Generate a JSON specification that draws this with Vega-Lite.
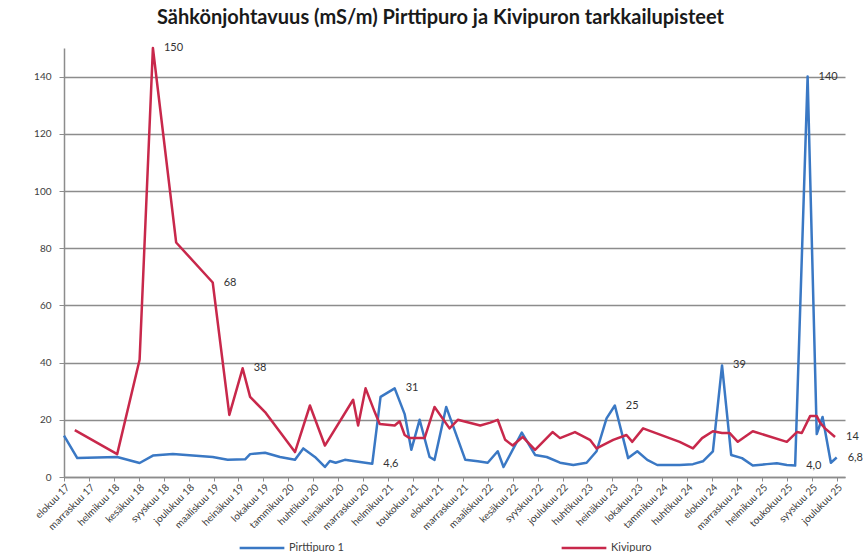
{
  "$schema": "https://vega.github.io/schema/vega-lite/v6.json",
  "autosize": {"type": "none"},
  "width": 781,
  "height": 429,
  "padding": {"left": 64, "top": 48, "right": 21, "bottom": 75},
  "background": "white",
  "title": {
    "text": "Sähkönjohtavuus (mS/m) Pirttipuro ja Kivipuron tarkkailupisteet",
    "font": "Lato",
    "fontSize": 20,
    "fontWeight": "bold",
    "color": "#1a1a1a",
    "anchor": "middle",
    "baseline": "bottom",
    "offset": 18,
    "dx": -14,
    "dy": 24
  },
  "data": {
    "values": [
      {"kerta": 0, "sarja": "Pirttipuro 1", "arvo": 14.5},
      {"kerta": 1.6, "sarja": "Pirttipuro 1", "arvo": 6.6},
      {"kerta": 6.4, "sarja": "Pirttipuro 1", "arvo": 7.0},
      {"kerta": 9.1, "sarja": "Pirttipuro 1", "arvo": 4.9},
      {"kerta": 10.7, "sarja": "Pirttipuro 1", "arvo": 7.5},
      {"kerta": 13.1, "sarja": "Pirttipuro 1", "arvo": 8.0},
      {"kerta": 17.9, "sarja": "Pirttipuro 1", "arvo": 7.0},
      {"kerta": 19.7, "sarja": "Pirttipuro 1", "arvo": 6.0},
      {"kerta": 21.8, "sarja": "Pirttipuro 1", "arvo": 6.2},
      {"kerta": 22.4, "sarja": "Pirttipuro 1", "arvo": 8.0},
      {"kerta": 24.2, "sarja": "Pirttipuro 1", "arvo": 8.5},
      {"kerta": 26.0, "sarja": "Pirttipuro 1", "arvo": 7.0},
      {"kerta": 27.8, "sarja": "Pirttipuro 1", "arvo": 6.0},
      {"kerta": 28.8, "sarja": "Pirttipuro 1", "arvo": 10.0},
      {"kerta": 30.2, "sarja": "Pirttipuro 1", "arvo": 7.0},
      {"kerta": 31.4, "sarja": "Pirttipuro 1", "arvo": 3.5},
      {"kerta": 32.0, "sarja": "Pirttipuro 1", "arvo": 5.6},
      {"kerta": 32.7, "sarja": "Pirttipuro 1", "arvo": 5.0},
      {"kerta": 33.8, "sarja": "Pirttipuro 1", "arvo": 6.0},
      {"kerta": 35.0, "sarja": "Pirttipuro 1", "arvo": 5.5},
      {"kerta": 37.1, "sarja": "Pirttipuro 1", "arvo": 4.6, "nimi": "4,6"},
      {"kerta": 38.1, "sarja": "Pirttipuro 1", "arvo": 28},
      {"kerta": 39.8, "sarja": "Pirttipuro 1", "arvo": 31, "nimi": "31"},
      {"kerta": 41.0, "sarja": "Pirttipuro 1", "arvo": 22},
      {"kerta": 41.8, "sarja": "Pirttipuro 1", "arvo": 9.5},
      {"kerta": 42.8, "sarja": "Pirttipuro 1", "arvo": 20},
      {"kerta": 44.0, "sarja": "Pirttipuro 1", "arvo": 7},
      {"kerta": 44.6, "sarja": "Pirttipuro 1", "arvo": 6},
      {"kerta": 46.0, "sarja": "Pirttipuro 1", "arvo": 24.5},
      {"kerta": 48.3, "sarja": "Pirttipuro 1", "arvo": 6},
      {"kerta": 49.8, "sarja": "Pirttipuro 1", "arvo": 5.5},
      {"kerta": 51.0, "sarja": "Pirttipuro 1", "arvo": 5},
      {"kerta": 52.2, "sarja": "Pirttipuro 1", "arvo": 9},
      {"kerta": 52.9, "sarja": "Pirttipuro 1", "arvo": 3.5},
      {"kerta": 55.1, "sarja": "Pirttipuro 1", "arvo": 15.5},
      {"kerta": 56.7, "sarja": "Pirttipuro 1", "arvo": 7.7},
      {"kerta": 58.1, "sarja": "Pirttipuro 1", "arvo": 7},
      {"kerta": 59.7, "sarja": "Pirttipuro 1", "arvo": 5},
      {"kerta": 61.3, "sarja": "Pirttipuro 1", "arvo": 4.2},
      {"kerta": 62.9, "sarja": "Pirttipuro 1", "arvo": 5},
      {"kerta": 64.1, "sarja": "Pirttipuro 1", "arvo": 9},
      {"kerta": 65.3, "sarja": "Pirttipuro 1", "arvo": 20.5},
      {"kerta": 66.3, "sarja": "Pirttipuro 1", "arvo": 25, "nimi": "25"},
      {"kerta": 67.9, "sarja": "Pirttipuro 1", "arvo": 6.6},
      {"kerta": 69.0, "sarja": "Pirttipuro 1", "arvo": 9},
      {"kerta": 70.2, "sarja": "Pirttipuro 1", "arvo": 6},
      {"kerta": 71.4, "sarja": "Pirttipuro 1", "arvo": 4.2},
      {"kerta": 74.1, "sarja": "Pirttipuro 1", "arvo": 4.2},
      {"kerta": 75.7, "sarja": "Pirttipuro 1", "arvo": 4.5},
      {"kerta": 76.9, "sarja": "Pirttipuro 1", "arvo": 5.5},
      {"kerta": 78.1, "sarja": "Pirttipuro 1", "arvo": 9},
      {"kerta": 79.2, "sarja": "Pirttipuro 1", "arvo": 39, "nimi": "39"},
      {"kerta": 80.3, "sarja": "Pirttipuro 1", "arvo": 7.7},
      {"kerta": 81.6, "sarja": "Pirttipuro 1", "arvo": 6.6},
      {"kerta": 82.9, "sarja": "Pirttipuro 1", "arvo": 4},
      {"kerta": 84.6, "sarja": "Pirttipuro 1", "arvo": 4.5},
      {"kerta": 85.8, "sarja": "Pirttipuro 1", "arvo": 4.8},
      {"kerta": 87.0, "sarja": "Pirttipuro 1", "arvo": 4.2},
      {"kerta": 88.0, "sarja": "Pirttipuro 1", "arvo": 4.0, "nimi": "4,0"},
      {"kerta": 89.5, "sarja": "Pirttipuro 1", "arvo": 140, "nimi": "140"},
      {"kerta": 90.6, "sarja": "Pirttipuro 1", "arvo": 15},
      {"kerta": 91.3, "sarja": "Pirttipuro 1", "arvo": 21},
      {"kerta": 92.3, "sarja": "Pirttipuro 1", "arvo": 5},
      {"kerta": 93.0, "sarja": "Pirttipuro 1", "arvo": 6.8, "nimi": "6,8"},
      {"kerta": 1.3, "sarja": "Kivipuro", "arvo": 16.4},
      {"kerta": 6.4, "sarja": "Kivipuro", "arvo": 8},
      {"kerta": 9.1, "sarja": "Kivipuro", "arvo": 41},
      {"kerta": 10.7, "sarja": "Kivipuro", "arvo": 150, "nimi": "150"},
      {"kerta": 13.5, "sarja": "Kivipuro", "arvo": 82},
      {"kerta": 17.9, "sarja": "Kivipuro", "arvo": 68, "nimi": "68"},
      {"kerta": 19.9, "sarja": "Kivipuro", "arvo": 21.7},
      {"kerta": 21.5, "sarja": "Kivipuro", "arvo": 38, "nimi": "38"},
      {"kerta": 22.4, "sarja": "Kivipuro", "arvo": 28},
      {"kerta": 24.2, "sarja": "Kivipuro", "arvo": 22.7},
      {"kerta": 27.8, "sarja": "Kivipuro", "arvo": 8.7},
      {"kerta": 29.6, "sarja": "Kivipuro", "arvo": 25},
      {"kerta": 31.4, "sarja": "Kivipuro", "arvo": 11},
      {"kerta": 34.8, "sarja": "Kivipuro", "arvo": 27},
      {"kerta": 35.4, "sarja": "Kivipuro", "arvo": 18},
      {"kerta": 36.3, "sarja": "Kivipuro", "arvo": 31},
      {"kerta": 37.4, "sarja": "Kivipuro", "arvo": 22.7},
      {"kerta": 38.0, "sarja": "Kivipuro", "arvo": 18.5},
      {"kerta": 39.8, "sarja": "Kivipuro", "arvo": 18},
      {"kerta": 40.4, "sarja": "Kivipuro", "arvo": 19.5},
      {"kerta": 41.0, "sarja": "Kivipuro", "arvo": 14.7},
      {"kerta": 41.6, "sarja": "Kivipuro", "arvo": 13.6},
      {"kerta": 43.4, "sarja": "Kivipuro", "arvo": 13.6},
      {"kerta": 44.6, "sarja": "Kivipuro", "arvo": 24.5},
      {"kerta": 46.4, "sarja": "Kivipuro", "arvo": 17},
      {"kerta": 47.4, "sarja": "Kivipuro", "arvo": 20},
      {"kerta": 50.1, "sarja": "Kivipuro", "arvo": 18},
      {"kerta": 51.3, "sarja": "Kivipuro", "arvo": 19},
      {"kerta": 52.2, "sarja": "Kivipuro", "arvo": 20},
      {"kerta": 53.1, "sarja": "Kivipuro", "arvo": 13},
      {"kerta": 54.0, "sarja": "Kivipuro", "arvo": 11},
      {"kerta": 55.2, "sarja": "Kivipuro", "arvo": 14},
      {"kerta": 56.7, "sarja": "Kivipuro", "arvo": 9.5},
      {"kerta": 58.8, "sarja": "Kivipuro", "arvo": 15.7},
      {"kerta": 59.7, "sarja": "Kivipuro", "arvo": 13.6},
      {"kerta": 61.5, "sarja": "Kivipuro", "arvo": 15.7},
      {"kerta": 63.3, "sarja": "Kivipuro", "arvo": 13},
      {"kerta": 64.1, "sarja": "Kivipuro", "arvo": 10},
      {"kerta": 66.1, "sarja": "Kivipuro", "arvo": 13},
      {"kerta": 67.7, "sarja": "Kivipuro", "arvo": 14.7},
      {"kerta": 68.4, "sarja": "Kivipuro", "arvo": 12.3},
      {"kerta": 69.7, "sarja": "Kivipuro", "arvo": 17},
      {"kerta": 74.1, "sarja": "Kivipuro", "arvo": 12.3},
      {"kerta": 75.7, "sarja": "Kivipuro", "arvo": 10},
      {"kerta": 76.8, "sarja": "Kivipuro", "arvo": 13.6},
      {"kerta": 78.1, "sarja": "Kivipuro", "arvo": 16},
      {"kerta": 79.2, "sarja": "Kivipuro", "arvo": 15.4},
      {"kerta": 80.1, "sarja": "Kivipuro", "arvo": 15.4},
      {"kerta": 81.1, "sarja": "Kivipuro", "arvo": 12.3},
      {"kerta": 82.9, "sarja": "Kivipuro", "arvo": 16},
      {"kerta": 87.0, "sarja": "Kivipuro", "arvo": 12.3},
      {"kerta": 88.2, "sarja": "Kivipuro", "arvo": 15.7},
      {"kerta": 88.8, "sarja": "Kivipuro", "arvo": 15.4},
      {"kerta": 89.8, "sarja": "Kivipuro", "arvo": 21.3},
      {"kerta": 90.6, "sarja": "Kivipuro", "arvo": 21.3},
      {"kerta": 91.0, "sarja": "Kivipuro", "arvo": 19},
      {"kerta": 91.6, "sarja": "Kivipuro", "arvo": 17},
      {"kerta": 92.8, "sarja": "Kivipuro", "arvo": 14, "nimi": "14"}
    ]
  },
  "encoding": {
    "x": {
      "field": "kerta",
      "type": "quantitative",
      "scale": {"domain": [0, 94], "nice": false, "zero": false},
      "axis": {
        "title": null,
        "grid": false,
        "values": [0, 3, 6, 9, 12, 15, 18, 21, 24, 27, 30, 33, 36, 39, 42, 45, 48, 51, 54, 57, 60, 63, 66, 69, 72, 75, 78, 81, 84, 87, 90, 93],
        "labelExpr": "['elokuu 17','marraskuu 17','helmikuu 18','kesäkuu 18','syyskuu 18','joulukuu 18','maaliskuu 19','heinäkuu 19','lokakuu 19','tammikuu 20','huhtikuu 20','heinäkuu 20','marraskuu 20','helmikuu 21','toukokuu 21','elokuu 21','marraskuu 21','maaliskuu 22','kesäkuu 22','syyskuu 22','joulukuu 22','huhtikuu 23','heinäkuu 23','lokakuu 23','tammikuu 24','huhtikuu 24','elokuu 24','marraskuu 24','helmikuu 25','toukokuu 25','syyskuu 25','joulukuu 25'][round(datum.value / 3)]",
        "labelAngle": -45,
        "labelAlign": "right",
        "labelBaseline": "top",
        "labelFont": "Lato",
        "labelFontSize": 10,
        "labelColor": "#404040",
        "labelPadding": 1,
        "labelOverlap": false,
        "labelBound": false,
        "labelFlush": false,
        "domainColor": "#8c8c8c",
        "domainWidth": 1.5,
        "tickColor": "#8c8c8c",
        "tickSize": 4
      }
    },
    "y": {
      "field": "arvo",
      "type": "quantitative",
      "scale": {"domain": [0, 150], "nice": false},
      "axis": {
        "title": null,
        "values": [0, 20, 40, 60, 80, 100, 120, 140],
        "grid": true,
        "gridColor": "#8c8c8c",
        "gridWidth": 1.5,
        "domainColor": "#8c8c8c",
        "domainWidth": 1.5,
        "tickColor": "#8c8c8c",
        "tickSize": 5,
        "labelFont": "Lato",
        "labelFontSize": 10,
        "labelColor": "#404040",
        "labelPadding": 8
      }
    }
  },
  "layer": [
    {
      "mark": {"type": "line", "strokeWidth": 2.5, "strokeJoin": "round"},
      "encoding": {
        "color": {
          "field": "sarja",
          "type": "nominal",
          "scale": {"domain": ["Pirttipuro 1", "Kivipuro"], "range": ["#3a78c4", "#c8284b"]},
          "legend": {
            "title": null,
            "orient": "none",
            "direction": "horizontal",
            "legendX": 174,
            "legendY": 476,
            "symbolType": "stroke",
            "symbolSize": 2000,
            "symbolStrokeWidth": 2.5,
            "labelFont": "Lato",
            "labelFontSize": 11,
            "labelColor": "#404040",
            "labelOffset": 3,
            "columnPadding": 212
          }
        }
      }
    },
    {
      "transform": [{"filter": "datum.nimi != null"}],
      "mark": {"type": "text", "align": "left", "baseline": "middle", "dx": 11, "font": "Lato", "fontSize": 11, "color": "#333333"},
      "encoding": {
        "text": {"field": "nimi"}
      }
    }
  ],
  "config": {"view": {"stroke": null}, "axisX": {"labelOverlap": false}}
}
